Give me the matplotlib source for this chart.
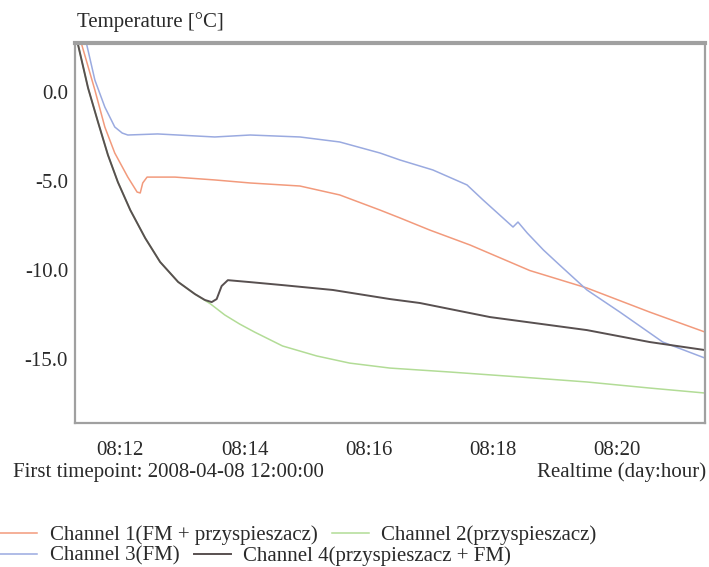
import matplotlib
matplotlib.use("Agg")
import matplotlib.pyplot as plt

plt.rcParams["font.family"] = ["Liberation Serif", "DejaVu Serif"]
plt.rcParams["font.size"] = 15

# minutes after 08:00
t_ch1 = [11.27, 11.38, 11.59, 11.75, 11.91, 12.12, 12.27, 12.32, 12.36, 12.43, 12.88,
         13.52, 14.09, 14.89, 15.53, 16.18, 16.50, 16.98, 17.63, 18.59, 19.51, 20.52, 21.41]
temp_ch1 = [3.9, 2.61, 0.08, -1.99, -3.45, -4.80, -5.64, -5.69, -5.13, -4.80, -4.80,
            -4.96, -5.13, -5.30, -5.80, -6.65, -7.09, -7.77, -8.61, -10.04, -11.02, -12.37, -13.49]

t_ch2 = [11.27, 11.32, 11.48, 11.64, 11.80, 11.96, 12.16, 12.40, 12.64, 12.93, 13.20,
         13.45, 13.68, 13.92, 14.16, 14.61, 15.16, 15.69, 16.34, 17.30, 18.43, 19.51,
         20.52, 21.41]
temp_ch2 = [2.9, 2.61, 0.20, -1.71, -3.56, -5.08, -6.65, -8.22, -9.56, -10.68, -11.36,
            -11.91, -12.53, -13.04, -13.49, -14.27, -14.83, -15.23, -15.51, -15.73, -16.01,
            -16.29, -16.63, -16.91]

t_ch3 = [11.27, 11.46, 11.59, 11.75, 11.91, 12.03, 12.12, 12.60, 13.52, 14.09, 14.89,
         15.53, 16.18, 16.50, 17.03, 17.58, 17.84, 18.32, 18.40, 18.55, 18.81, 19.07,
         19.51, 20.04, 20.73, 21.41]
temp_ch3 = [5.3, 2.61, 0.64, -0.87, -1.99, -2.33, -2.44, -2.38, -2.55, -2.44, -2.55,
            -2.83, -3.45, -3.84, -4.40, -5.24, -6.09, -7.60, -7.32, -7.94, -8.89, -9.73,
            -11.13, -12.37, -14.05, -14.95]

t_ch4 = [11.27, 11.32, 11.48, 11.64, 11.80, 11.96, 12.16, 12.40, 12.64, 12.93, 13.20,
         13.36, 13.47, 13.55, 13.63, 13.73, 14.09, 14.62, 15.42, 16.34, 16.82, 17.95,
         19.51, 20.52, 21.41]
temp_ch4 = [2.9, 2.61, 0.20, -1.71, -3.56, -5.08, -6.65, -8.22, -9.56, -10.68, -11.36,
            -11.69, -11.81, -11.64, -10.91, -10.58, -10.69, -10.86, -11.13, -11.64, -11.86,
            -12.65, -13.38, -14.05, -14.50]

labels = ["Channel 1(FM + przyspieszacz)", "Channel 2(przyspieszacz)",
          "Channel 3(FM)", "Channel 4(przyspieszacz + FM)"]
x_ticks = [12, 14, 16, 18, 20]
x_ticklabels = ["08:12", "08:14", "08:16", "08:18", "08:20"]
y_ticks = [0, -5, -10, -15]
y_ticklabels = ["0.0", "-5.0", "-10.0", "-15.0"]

fig = plt.figure(figsize=(7.09, 5.67), dpi=100)
ax = fig.add_axes([75 / 709, 1 - 423 / 567, 630 / 709, 380 / 567])

l1, = ax.plot(t_ch1, temp_ch1, color="#f29a7c", lw=1.1)
l2, = ax.plot(t_ch2, temp_ch2, color="#b2dc96", lw=1.1)
l3, = ax.plot(t_ch3, temp_ch3, color="#9aaae0", lw=1.1)
l4, = ax.plot(t_ch4, temp_ch4, color="#585050", lw=1.4)

ax.set_xlim(11.27, 21.41)
ax.set_ylim(-18.59, 2.72)
ax.set_xticks(x_ticks)
ax.set_xticklabels(x_ticklabels)
ax.set_yticks(y_ticks)
ax.set_yticklabels(y_ticklabels)
ax.tick_params(length=0, colors="#2a2a2a")
ax.tick_params(axis="x", pad=13)
ax.tick_params(axis="y", pad=5)

for side in ["left", "bottom", "right"]:
    ax.spines[side].set_color("#a0a0a0")
    ax.spines[side].set_linewidth(1.6)
ax.spines["top"].set_color("#a0a0a0")
ax.spines["top"].set_linewidth(3)

fig.text(77 / 709, 1 - 22 / 567, "Temperature [°C]", va="center", ha="left", color="#2a2a2a")
fig.text(13 / 709, 1 - 472 / 567, "First timepoint: 2008-04-08 12:00:00", va="center", ha="left",
         color="#2a2a2a")
fig.text(706 / 709, 1 - 472 / 567, "Realtime (day:hour)", va="center", ha="right", color="#2a2a2a")

leg_opts = dict(ncol=2, frameon=False, borderpad=0, borderaxespad=0, handlelength=1.78,
                handletextpad=0.6, columnspacing=0.7, loc="center left")
leg1 = fig.legend([l1, l2], labels[:2], bbox_to_anchor=(0, 1 - 535 / 567), **leg_opts)
leg2 = fig.legend([l3, l4], labels[2:], bbox_to_anchor=(0, 1 - 556 / 567), **leg_opts)
for leg in [leg1, leg2]:
    for txt in leg.get_texts():
        txt.set_color("#2a2a2a")

fig.savefig("out.png", dpi=100)
